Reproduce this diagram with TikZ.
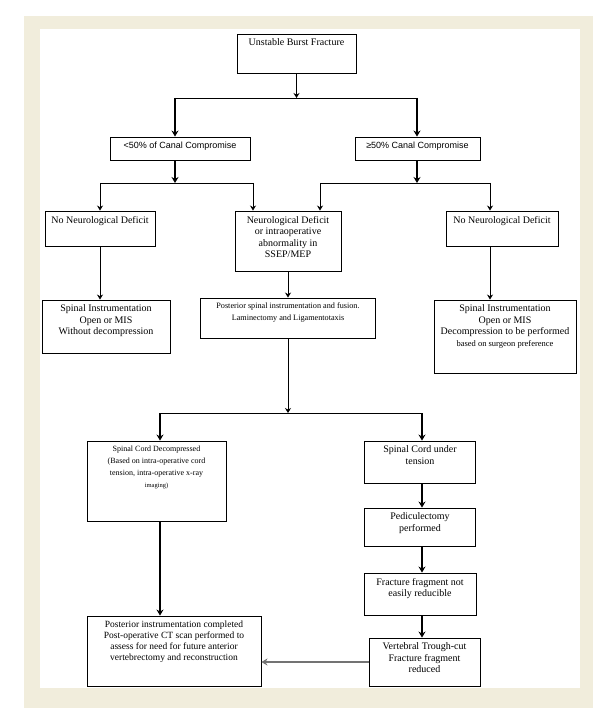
\documentclass[tikz,border=0pt]{standalone}
\usepackage{fontspec}
\setmainfont{Liberation Serif}
\setsansfont{Liberation Sans}
\usetikzlibrary{arrows.meta,positioning}
\definecolor{paper}{RGB}{241,237,220}
\newcommand{\boxtext}[3]{\parbox[c][\dimexpr#2pt-10pt\relax][t]{\dimexpr#1pt-6pt\relax}{\centering#3}}
\tikzset{
  box/.style={draw=black, line width=0.9pt, inner xsep=3pt, inner ysep=5pt, font=\fontsize{10}{11.5}\selectfont},
  link/.style={line width=0.9pt},
  flow/.style={-{Stealth[length=5pt,width=6pt]}, line width=0.9pt},
  boldflow/.style={-{Stealth[length=6pt,width=7pt]}, line width=1.9pt},
  greyflow/.style={-{Stealth[length=6pt,width=7pt]}, line width=2.3pt, draw=black!55}
}

\begin{document}
\begin{tikzpicture}[x=1pt, y=-1pt]
  \useasboundingbox (0,0) rectangle (612,708);
  \fill[paper] (24,16) rectangle (593,708);
  \fill[white] (40,29) rectangle (580,688);

  \node[box] (burst) at (296.5,53.5) {\boxtext{119}{39}{Unstable Burst Fracture}};
  \node[box] (low) at (180,148.5) {\boxtext{140}{23}{\sffamily\fontsize{9}{11}\selectfont <50\% of Canal Compromise}};
  \node[box] (high) at (417.5,148.5) {\boxtext{125}{23}{\sffamily\fontsize{9}{11}\selectfont ≥50\% Canal Compromise}};
  \node[box] (nodefl) at (100,228.5) {\boxtext{110}{35}{No Neurological Deficit}};
  \node[box] (neudef) at (288,241) {\boxtext{106}{60}{Neurological Deficit\\ or intraoperative\\ abnormality in\\ SSEP/MEP}};
  \node[box] (nodefr) at (502,228.5) {\boxtext{112}{35}{No Neurological Deficit}};
  \node[box] (instl) at (106,326.5) {\boxtext{128}{53}{Spinal Instrumentation\\ Open or MIS\\ Without decompression}};
  \node[box] (post) at (288,318) {\boxtext{175}{40}{\fontsize{8.2}{12}\selectfont Posterior spinal instrumentation and fusion.\\ Laminectomy and Ligamentotaxis}};
  \node[box] (instr) at (505,336.5) {\boxtext{142}{73}{Spinal Instrumentation\\ Open or MIS\\ Decompression to be performed\\ {\fontsize{8.5}{11}\selectfont based on surgeon preference}}};
  \node[box] (decomp) at (156.5,481) {\boxtext{139}{80}{\fontsize{8}{12}\selectfont Spinal Cord Decompressed\\ (Based on intra-operative cord\\ tension, intra-operative x-ray\\ {\fontsize{6.5}{12}\selectfont imaging)}}};
  \node[box] (tension) at (420,462) {\boxtext{111}{42}{Spinal Cord under\\ tension}};
  \node[box] (pedic) at (420,527) {\boxtext{111}{38}{Pediculectomy\\ performed}};
  \node[box] (frag) at (420,594) {\boxtext{112}{42}{Fracture fragment not\\ easily reducible}};
  \node[box] (trough) at (424.5,662) {\boxtext{111}{48}{Vertebral Trough-cut\\ Fracture fragment\\ reduced}};
  \node[box] (postinst) at (174,651) {\boxtext{174}{70}{\fontsize{9.5}{11}\selectfont Posterior instrumentation completed\\ Post-operative CT scan performed to\\ assess for need for future anterior\\ vertebrectomy and reconstruction}};

  % first split
  \coordinate (s1) at (296.5,98);
  \coordinate (s1l) at (175,98);
  \coordinate (s1r) at (417,98);
  \draw[flow] (burst) -- (s1);
  \draw[link] (s1l) -- (s1r);
  \draw[boldflow] (s1l) -- (s1l |- low.north);
  \draw[boldflow] (s1r) -- (s1r |- high.north);

  % canal compromise splits
  \coordinate (s2) at (175,183);
  \coordinate (s2l) at (100,183);
  \coordinate (s2r) at (253,183);
  \coordinate (s3) at (417,183);
  \coordinate (s3l) at (320,183);
  \coordinate (s3r) at (490,183);
  \draw[boldflow] (s2 |- low.south) -- (s2);
  \draw[boldflow] (s3 |- high.south) -- (s3);
  \draw[link] (s2l) -- (s2r);
  \draw[link] (s3l) -- (s3r);
  \draw[flow] (s2l) -- (s2l |- nodefl.north);
  \draw[flow] (s2r) -- (s2r |- neudef.north);
  \draw[flow] (s3l) -- (s3l |- neudef.north);
  \draw[flow] (s3r) -- (s3r |- nodefr.north);

  \draw[flow] (s2l |- nodefl.south) -- (s2l |- instl.north);
  \draw[flow] (neudef) -- (post);
  \draw[flow] (s3r |- nodefr.south) -- (s3r |- instr.north);

  % cord split
  \coordinate (s4) at (288,413);
  \coordinate (s4l) at (160,413);
  \coordinate (s4r) at (422,413);
  \draw[flow] (post) -- (s4);
  \draw[link] (s4l) -- (s4r);
  \draw[boldflow] (s4l) -- (s4l |- decomp.north);
  \draw[boldflow] (s4r) -- (s4r |- tension.north);
  \draw[boldflow] (s4r |- tension.south) -- (s4r |- pedic.north);
  \draw[boldflow] (s4r |- pedic.south) -- (s4r |- frag.north);
  \draw[boldflow] (s4r |- frag.south) -- (s4r |- trough.north);
  \draw[boldflow] (s4l |- decomp.south) -- (s4l |- postinst.north);
  \draw[greyflow] (trough.west) -- (postinst.east |- trough.west);
\end{tikzpicture}
\end{document}
